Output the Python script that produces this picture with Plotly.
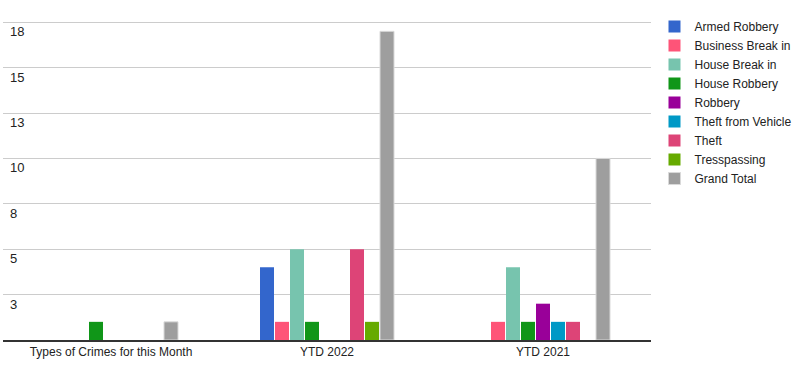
import plotly.graph_objects as go

categories = ["Types of Crimes for this Month", "YTD 2022", "YTD 2021"]
series_names = ["Armed Robbery", "Business Break in", "House Break in", "House Robbery",
                "Robbery", "Theft from Vehicle", "Theft", "Tresspassing", "Grand Total"]
armed_robbery = [0, 4, 0]
business_break_in = [0, 1, 1]
house_break_in = [0, 5, 4]
house_robbery = [1, 1, 1]
robbery = [0, 0, 2]
theft_from_vehicle = [0, 0, 1]
theft = [0, 5, 1]
tresspassing = [0, 1, 0]
grand_total = [1, 17, 10]
series_values = [armed_robbery, business_break_in, house_break_in, house_robbery,
                 robbery, theft_from_vehicle, theft, tresspassing, grand_total]
colors = ["#3366cc", "#fe5478", "#77c4ae", "#109618", "#990099",
          "#0099c6", "#dd4477", "#66aa00", "#9e9e9e"]
tick_vals = [2.5, 5, 7.5, 10, 12.5, 15, 17.5]
tick_text = ["3", "5", "8", "10", "13", "15", "18"]

fig = go.Figure()
for name, vals, col in zip(series_names, series_values, colors):
    line = dict(width=1, color="#d9d9d9") if name == "Grand Total" else dict(width=0)
    fig.add_trace(go.Bar(x=categories, y=vals, name=name,
                         marker=dict(color=col, line=line)))

for v, t in zip(tick_vals, tick_text):
    fig.add_annotation(x=0, xref="paper", y=v, yref="y", text=t, showarrow=False,
                       xanchor="left", yanchor="top", xshift=5, yshift=0,
                       font=dict(family="Arial, Liberation Sans", size=13, color="#222"))

fig.update_layout(
    width=800, height=381,
    margin=dict(l=3, r=149, t=5, b=41),
    paper_bgcolor="white", plot_bgcolor="white",
    barmode="group", bargap=0.375, bargroupgap=0.067,
    font=dict(family="Arial, Liberation Sans", size=12, color="#222"),
    showlegend=True,
    legend=dict(x=1.0054, y=0.979, xanchor="left", yanchor="top",
                font=dict(size=12, color="#222"), tracegroupgap=0,
                itemwidth=30, bgcolor="rgba(0,0,0,0)"),
    xaxis=dict(showline=True, linecolor="#333", linewidth=1.5, ticks="",
               showgrid=False, tickfont=dict(size=12, color="#222")),
    yaxis=dict(range=[0, 18.45], tickvals=tick_vals, showticklabels=False,
               showgrid=True, gridcolor="#cccccc", gridwidth=1, zeroline=False,
               fixedrange=True),
)

fig.write_html("out.html")
